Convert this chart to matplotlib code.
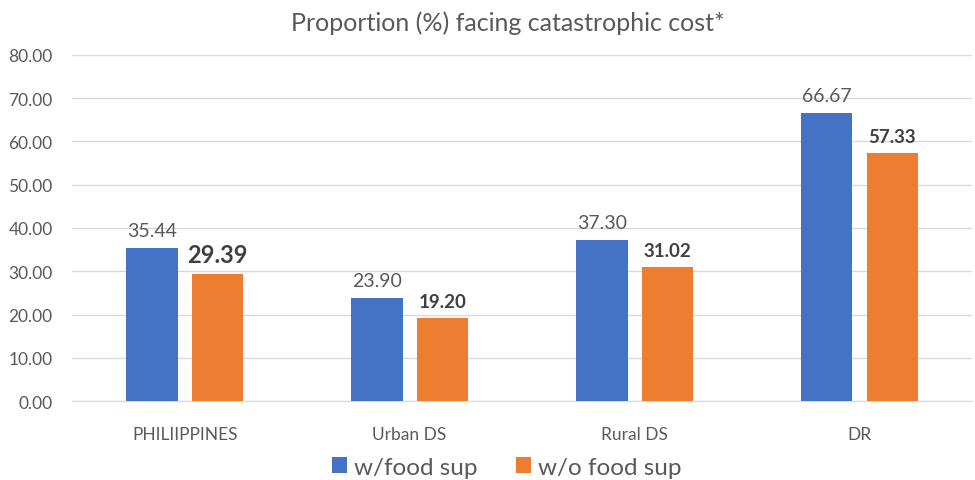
import matplotlib.pyplot as plt
import numpy as np

# data
categories = ["PHILIIPPINES", "Urban DS", "Rural DS", "DR"]
with_food = [35.44, 23.90, 37.30, 66.67]
without_food = [29.39, 19.20, 31.02, 57.33]

plt.rcParams['font.family'] = ['Lato', 'DejaVu Sans']
txt = '#595959'
blue = '#4472C4'
orange = '#ED7D31'

fig = plt.figure(figsize=(9.75, 4.81), dpi=100)
ax = fig.add_axes([0.074, 0.164, 0.923, 0.72])

x = np.arange(len(categories))
w = 0.227
b1 = ax.bar(x - 0.145, with_food, w, color=blue, label='w/food sup', zorder=3)
b2 = ax.bar(x + 0.145, without_food, w, color=orange, label='w/o food sup', zorder=3)

# value labels
for rect, v in zip(b1, with_food):
    ax.text(rect.get_x() + rect.get_width() / 2, v + 2.0, f"{v:.2f}",
            ha='center', va='bottom', fontsize=14, color=txt)
for i, (rect, v) in enumerate(zip(b2, without_food)):
    ax.text(rect.get_x() + rect.get_width() / 2, v + 1.8, f"{v:.2f}",
            ha='center', va='bottom', fontsize=17 if i == 0 else 13.5,
            fontweight='bold', color='#404040')

ax.set_xlim(-0.5, len(categories) - 0.5)
ax.set_ylim(0, 80)
ax.set_yticks(np.arange(0, 81, 10))
ax.set_yticklabels([f"{t:.2f}" for t in np.arange(0, 81, 10)])
ax.set_xticks(x)
ax.set_xticklabels(categories)
ax.tick_params(axis='both', length=0, labelsize=12.5, colors=txt)
ax.tick_params(axis='x', pad=18)
ax.tick_params(axis='y', pad=14)
ax.grid(axis='y', color='#D9D9D9', linewidth=1, zorder=0)
for s in ['top', 'right', 'left']:
    ax.spines[s].set_visible(False)
ax.spines['bottom'].set_color('#D9D9D9')

fig.text(0.521, 0.952, "Proportion (%) facing catastrophic cost*", ha='center', va='center',
         fontsize=18, color=txt)

fig.legend(loc='center', bbox_to_anchor=(0.52, 0.027), ncol=2, frameon=False,
           fontsize=17.5, handlelength=0.6, handleheight=0.6, columnspacing=1.6,
           handletextpad=0.3, labelcolor=txt)

fig.savefig('out.png', dpi=100)
